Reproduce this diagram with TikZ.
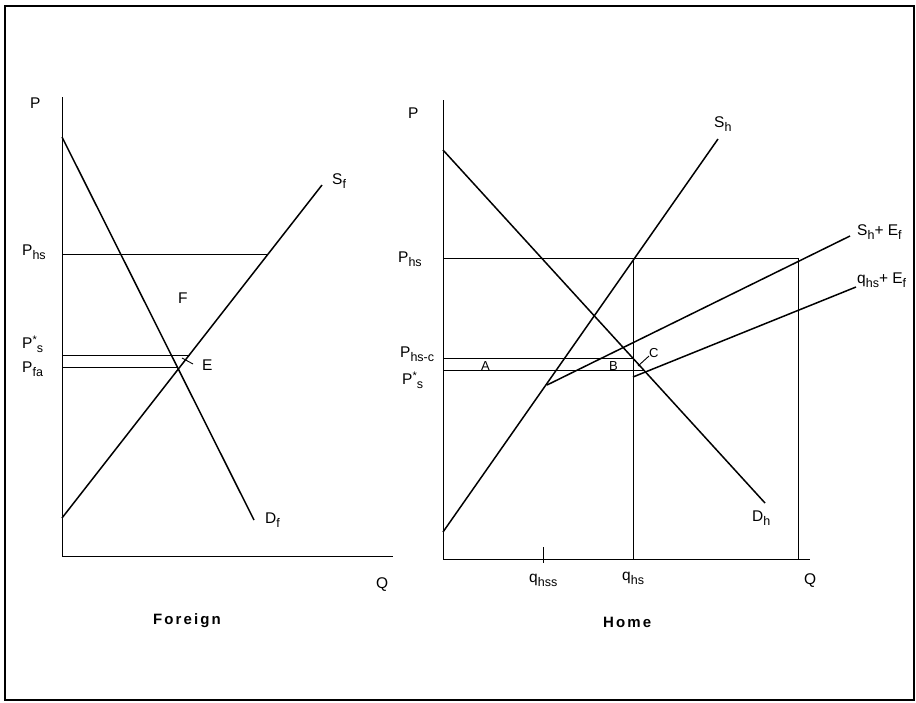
\documentclass[tikz,border=0pt]{standalone}
\usepackage{fontspec}
\setmainfont{Liberation Sans}
\newfontfamily\headfont[LetterSpace=14]{Liberation Sans}
\newcommand{\lowtxt}[1]{\raisebox{-0.6ex}{\fontsize{12.5}{13}\selectfont #1}}
\newcommand{\startxt}{\raisebox{0.5ex}{\fontsize{11}{11}\selectfont *}}
\begin{document}
\begin{tikzpicture}[x=1pt,y=-1pt,
  curve/.style={line width=1.5pt},
  guide/.style={line width=0.9pt},
  lbl/.style={inner sep=0pt,anchor=base west,font=\fontsize{15.5}{17}\selectfont},
  small/.style={inner sep=0pt,anchor=base west,font=\fontsize{13}{14}\selectfont},
  head/.style={inner sep=0pt,anchor=base west,font=\fontsize{15}{17}\selectfont\headfont\bfseries}]
\useasboundingbox (0,0) rectangle (916,702);
\draw[line width=1.2pt] (5,6) rectangle (914,700);

% Foreign market
\coordinate (fO) at (62,556);
\coordinate (fTop) at (62,97);
\coordinate (fEnd) at (393,556);
\coordinate (dfA) at (62,137);
\coordinate (dfB) at (254,520);
\coordinate (sfA) at (62,518);
\coordinate (sfB) at (322,185);
\coordinate (fHs) at (62,254);
\coordinate (fHsR) at (268,254);
\coordinate (fStar) at (62,355);
\coordinate (fStarR) at (190,355);
\coordinate (fFa) at (62,367);
\coordinate (fFaR) at (178,367);
\coordinate (eA) at (182,358);
\coordinate (eB) at (193,364);

\draw[guide] (fTop) -- (fO) -- (fEnd);
\draw[curve] (dfA) -- (dfB);
\draw[curve] (sfA) -- (sfB);
\draw[guide] (fHs) -- (fHsR);
\draw[guide] (fStar) -- (fStarR);
\draw[guide] (fFa) -- (fFaR);
\draw[guide] (eA) -- (eB);

\node[lbl] (fP) at (30,108) {P};
\node[lbl] (fQ) at (376,588) {Q};
\node[lbl] (lPhs) at (22,255) {P\lowtxt{hs}};
\node[lbl] (lPst) at (22,348) {P\startxt\lowtxt{s}};
\node[lbl] (lPfa) at (22,372) {P\lowtxt{fa}};
\node[lbl] (lF) at (178,303) {F};
\node[lbl] (lE) at (202,370) {E};
\node[lbl] (lSf) at (332,184) {S\lowtxt{f}};
\node[lbl] (lDf) at (265,523) {D\lowtxt{f}};
\node[head] (foreign) at (153,624) {Foreign};

% Home market
\coordinate (hO) at (443,559);
\coordinate (hTop) at (443,100);
\coordinate (hEnd) at (810,559);
\coordinate (dhA) at (443,150);
\coordinate (dhB) at (765,503);
\coordinate (shA) at (443,532);
\coordinate (shB) at (718,139);
\coordinate (hHs) at (443,258);
\coordinate (hHsR) at (798,258);
\coordinate (qhsTop) at (633,258);
\coordinate (qhsBot) at (633,559);
\coordinate (qRTop) at (798,258);
\coordinate (qRBot) at (798,559);
\coordinate (seA) at (547,385);
\coordinate (seB) at (850,236);
\coordinate (qeA) at (633,377);
\coordinate (qeB) at (856,287);
\coordinate (hC) at (443,358);
\coordinate (hCR) at (633,358);
\coordinate (hStar) at (443,370);
\coordinate (hStarR) at (644,370);
\coordinate (tkA) at (543,547);
\coordinate (tkB) at (543,563);
\coordinate (cA) at (638,366);
\coordinate (cB) at (649,356);

\draw[guide] (hTop) -- (hO) -- (hEnd);
\draw[curve] (dhA) -- (dhB);
\draw[curve] (shA) -- (shB);
\draw[guide] (hHs) -- (hHsR);
\draw[guide] (qhsTop) -- (qhsBot);
\draw[guide] (qRTop) -- (qRBot);
\draw[curve] (seA) -- (seB);
\draw[curve] (qeA) -- (qeB);
\draw[guide] (hC) -- (hCR);
\draw[guide] (hStar) -- (hStarR);
\draw[guide] (tkA) -- (tkB);
\draw[guide] (cA) -- (cB);

\node[lbl] (hP) at (408,118) {P};
\node[lbl] (hQ) at (804,584) {Q};
\node[lbl] (rPhs) at (398,262) {P\lowtxt{hs}};
\node[lbl] (rPc) at (400,357) {P\lowtxt{hs-c}};
\node[lbl] (rPst) at (402,384) {P\startxt\lowtxt{s}};
\node[small] (lA) at (481,370) {A};
\node[small] (lB) at (609,370) {B};
\node[small] (lC) at (649,357) {C};
\node[lbl] (lSh) at (714,127) {S\lowtxt{h}};
\node[lbl] (lSE) at (857,235) {S\lowtxt{h}+ E\lowtxt{f}};
\node[lbl] (lqE) at (857,283) {q\lowtxt{hs}+ E\lowtxt{f}};
\node[lbl] (lDh) at (752,521) {D\lowtxt{h}};
\node[lbl] (lqhss) at (529,582) {q\lowtxt{hss}};
\node[lbl] (lqhs) at (622,580) {q\lowtxt{hs}};
\node[head] (home) at (603,627) {Home};
\end{tikzpicture}
\end{document}
